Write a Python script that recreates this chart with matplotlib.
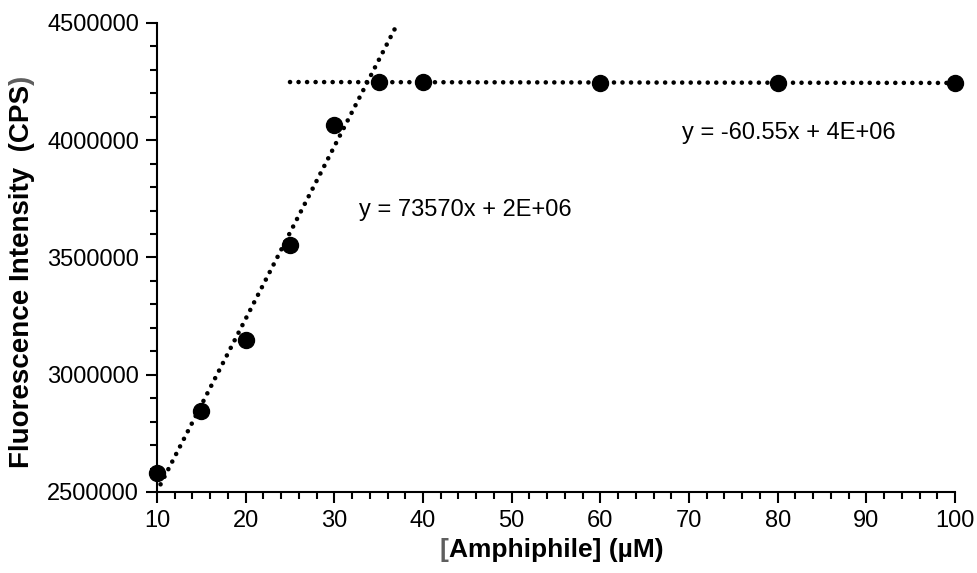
import matplotlib
matplotlib.use("Agg")
import matplotlib.pyplot as plt
import numpy as np
from matplotlib.ticker import MultipleLocator, FuncFormatter

# data
conc = [10, 15, 20, 25, 30, 35, 40, 60, 80, 100]
intensity = [2581000, 2845000, 3148000, 3553000, 4065000,
             4248000, 4248000, 4245000, 4245000, 4245000]

# two linear regimes, fitted like the Excel trendlines
rise_idx = slice(0, 5)
plateau_idx = slice(5, 10)
rise_range = (10.4, 37.1)      # with forward forecast
plateau_range = (25, 100)      # with backward forecast
eq_rise = "y = 73570x + 2E+06"
eq_plateau = "y = -60.55x + 4E+06"

plt.rcParams["font.family"] = ["Liberation Sans", "DejaVu Sans"]

if __name__ == "__main__":
    fig = plt.figure(figsize=(9.77, 5.73), dpi=100)
    ax = fig.add_axes([0.1607, 0.1414, 0.8168, 0.8185])

    x = np.array(conc, dtype=float)
    y = np.array(intensity, dtype=float)

    dot_style = dict(color="black", lw=3.3, linestyle=(0, (0.01, 1.85)),
                     dash_capstyle="round", zorder=2)

    # trendline 1 (rising part)
    p1 = np.polyfit(x[rise_idx], y[rise_idx], 1)
    xs1 = np.array(rise_range)
    ax.plot(xs1, np.polyval(p1, xs1), **dot_style)

    # trendline 2 (plateau)
    p2 = np.polyfit(x[plateau_idx], y[plateau_idx], 1)
    xs2 = np.array(plateau_range)
    ax.plot(xs2, np.polyval(p2, xs2), **dot_style)

    ax.plot(x, y, "o", color="black", markersize=11.5, zorder=3, clip_on=False)

    ax.text(32.8, 3703000, eq_rise, fontsize=17, va="center", ha="left")
    ax.text(69.2, 4031000, eq_plateau, fontsize=17, va="center", ha="left")

    ax.set_xlim(10, 100)
    ax.set_ylim(2500000, 4500000)
    ax.xaxis.set_major_locator(MultipleLocator(10))
    ax.xaxis.set_minor_locator(MultipleLocator(2))
    ax.yaxis.set_major_locator(MultipleLocator(500000))
    ax.yaxis.set_minor_locator(MultipleLocator(100000))
    ax.yaxis.set_major_formatter(FuncFormatter(lambda v, pos: f"{v:.0f}"))

    for side in ["top", "right"]:
        ax.spines[side].set_visible(False)
    for side in ["left", "bottom"]:
        ax.spines[side].set_linewidth(1.5)

    ax.tick_params(which="major", direction="out", length=8, width=1.5, labelsize=17)
    ax.tick_params(axis="y", which="major", pad=5)
    ax.tick_params(axis="x", which="major", pad=5)
    ax.tick_params(which="minor", direction="out", length=5, width=1.5)

    # axis labels, with the bracket / paren in grey as in the original
    xl = ax.set_xlabel("Amphiphile] (µM)", fontsize=19, fontweight="bold", labelpad=4)
    ax.annotate("[", xy=(0, 0.5), xycoords=xl, ha="right", va="center",
                fontsize=19, fontweight="bold", color="#5e5e5e")
    yl = ax.set_ylabel("Fluorescence Intensity  (CPS", fontsize=20,
                       fontweight="bold")
    ax.yaxis.set_label_coords(-0.153, 0.46)
    ax.annotate(")", xy=(0.5, 1), xycoords=yl, ha="center", va="bottom",
                rotation=90, fontsize=20, fontweight="bold", color="#5e5e5e")

    fig.savefig("out.png", dpi=100)
